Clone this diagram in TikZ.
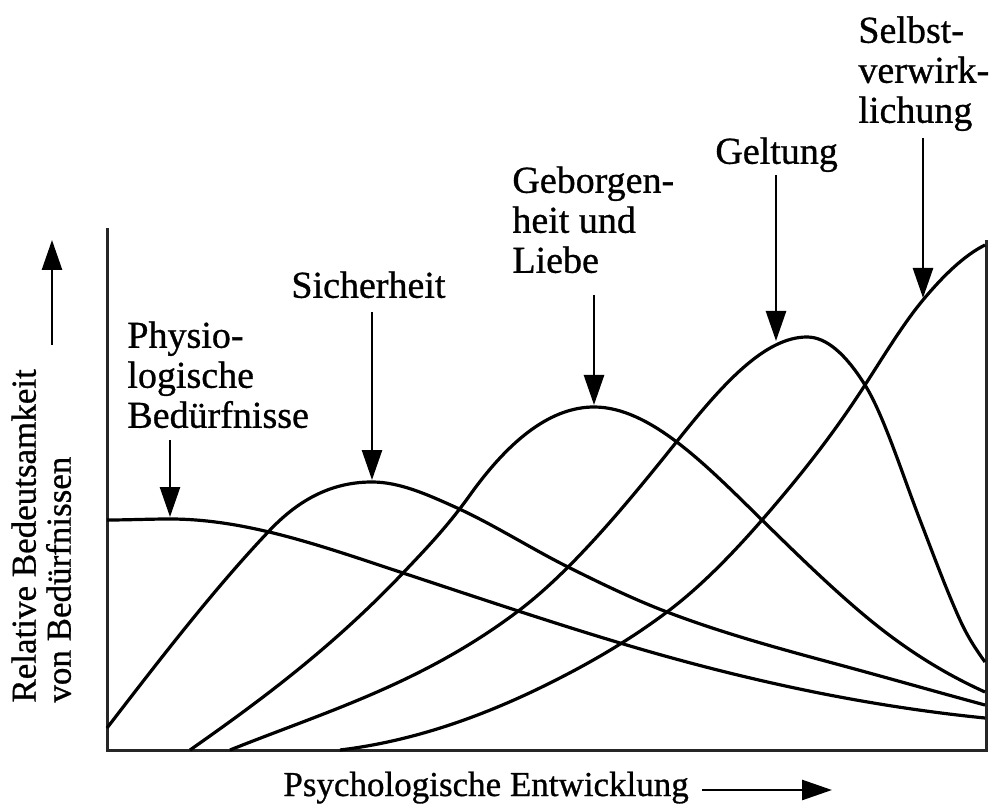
\documentclass[tikz,border=0pt]{standalone}
\usepackage{fontspec}
\setmainfont{Liberation Serif}[FakeBold=0.8]
\usetikzlibrary{arrows.meta,positioning}
\newcommand{\lblfont}{\fontsize{19}{20}\selectfont}
\newcommand{\axfont}{\fontsize{17.5}{17.5}\selectfont}
% one cubic piece from (\lx,\ly) with slope \lm to (\x,\y) with slope \m
\newcommand{\seg}{.. controls ({\lx+(\x-\lx)/3},{\ly+(\lm)*(\x-\lx)/3})
  and ({\x-(\x-\lx)/3},{\y-(\m)*(\x-\lx)/3}) .. (\x,\y)}

\begin{document}
\begin{tikzpicture}[x=0.5pt,y=-0.5pt,
    lbl/.style={font=\lblfont,align=left,inner sep=0pt,anchor=north west},
    kurve/.style={line width=1.6pt,line join=round},
    pfeil/.style={-{Triangle[length=15pt,width=10pt]},line width=1.3pt},
    achse/.style={line width=1.5pt,black!85}]
  \useasboundingbox (0,0) rectangle (990,807);
  % frame
  \coordinate (yt) at (107,228);
  \coordinate (o) at (107,750);
  \coordinate (xr) at (986,750);
  \coordinate (rt) at (986,240);
  \draw[achse] (yt) -- (o) -- (xr) -- (rt);
  % peaks and arrow starts
  \coordinate (p1) at (170,517);
  \coordinate (p2) at (372,480);
  \coordinate (p3) at (594,405);
  \coordinate (p4) at (776,341);
  \coordinate (p5) at (923,298);
  \coordinate (a1) at (170,440);
  \coordinate (a2) at (372,312);
  \coordinate (a3) at (594,295);
  \coordinate (a4) at (776,175);
  \coordinate (a5) at (923,138);
  % curves: x/y/slope
  \draw[kurve] (107,520) foreach \x/\y/\m [remember=\x as \lx (initially 107),
      remember=\y as \ly (initially 520),remember=\m as \lm (initially 0)]
    in {170/519/0,403/573/0.33,620/643/0.3,985/718/0.1} {\seg};
  \draw[kurve] (107,728) foreach \x/\y/\m [remember=\x as \lx (initially 107),
      remember=\y as \ly (initially 728),remember=\m as \lm (initially -1.3)]
    in {270/530/-1.05,372/482/0,455/507/0.45,568/567/0.5,667/612/0.38,840/665/0.27,985/705/0.27} {\seg};
  \draw[kurve] (190,750) foreach \x/\y/\m [remember=\x as \lx (initially 190),
      remember=\y as \ly (initially 750),remember=\m as \lm (initially -0.7)]
    in {403/573/-1.05,470/495/-1.4,594/407/0,762/520/0.98,870/620/0.82,985/692/0.45} {\seg};
  \draw[kurve] (230,750) foreach \x/\y/\m [remember=\x as \lx (initially 230),
      remember=\y as \ly (initially 750),remember=\m as \lm (initially -0.4)]
    in {517/612/-0.75,678/440/-1.25,807/337/0,865/385/1.6,920/520/2.6,960/620/2.2,985/662/1.4} {\seg};
  \draw[kurve] (340,750) foreach \x/\y/\m [remember=\x as \lx (initially 340),
      remember=\y as \ly (initially 750),remember=\m as \lm (initially -0.12)]
    in {550/683/-0.5,667/612/-0.75,762/520/-1.15,865/385/-1.55,923/300/-1.2,985/245/-0.5} {\seg};
  % labels
  \node[lbl] (phys) at (127,321) {Physio-\\logische\\Bedürfnisse};
  \node[lbl] (sich) at (291,271) {Sicherheit};
  \node[lbl] (gebo) at (512,166) {Geborgen-\\heit und\\Liebe};
  \node[lbl] (gelt) at (715,137) {Geltung};
  \node[lbl] (selbst) at (858,16) {Selbst-\\verwirk-\\lichung};
  \foreach \i in {1,...,5} {\draw[pfeil] (a\i) -- (p\i);}
  % axis titles
  \node[font=\axfont,align=left,inner sep=0pt,rotate=90,anchor=north west] (ylab) at (11,703)
    {Relative Bedeutsamkeit\\von Bedürfnissen};
  \node[font=\axfont,inner sep=0pt,anchor=base west] (xlab) at (283,796) {Psychologische Entwicklung};
  \coordinate (ya) at (52,345);
  \coordinate (yb) at (52,240);
  \coordinate (xa) at (702,790);
  \coordinate (xb) at (832,790);
  \draw[pfeil] (ya) -- (yb);
  \draw[pfeil] (xa) -- (xb);
\end{tikzpicture}
\end{document}
